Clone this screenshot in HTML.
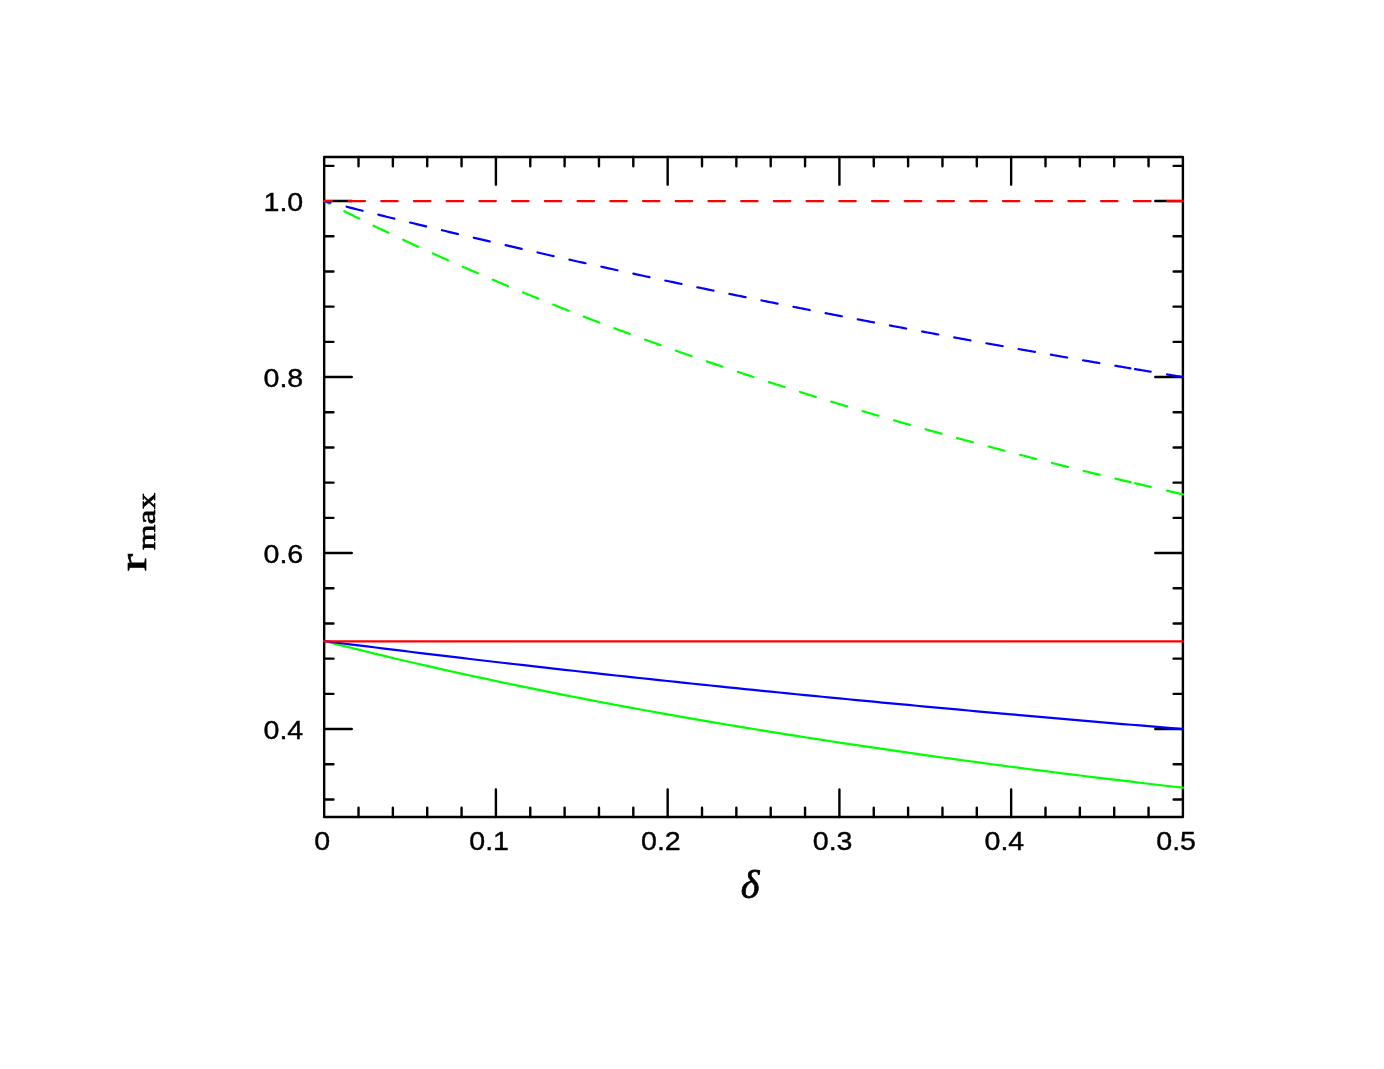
<!DOCTYPE html>
<html><head><meta charset="utf-8"><title>r_max vs delta</title>
<style>html,body{margin:0;padding:0;background:#fff;}svg{display:block;}text{font-family:"Liberation Sans",sans-serif;fill:#000;}.tl{font-size:26.6px;stroke:#000;stroke-width:0.4px;stroke-linejoin:round;}.ser{font-family:"Liberation Serif",serif;}</style></head><body>
<svg width="1384" height="1069" viewBox="0 0 1384 1069" style="will-change:transform">
<rect x="0" y="0" width="1384" height="1069" fill="#fff"/>
<rect x="324.17" y="157.03" width="858.73" height="660.00" fill="none" stroke="#000" stroke-width="2.4" stroke-linejoin="round"/>
<path d="M358.52 817.03v-9.3M358.52 157.03v9.3M392.87 817.03v-9.3M392.87 157.03v9.3M427.22 817.03v-9.3M427.22 157.03v9.3M461.57 817.03v-9.3M461.57 157.03v9.3M495.92 817.03v-27.6M495.92 157.03v27.6M530.27 817.03v-9.3M530.27 157.03v9.3M564.61 817.03v-9.3M564.61 157.03v9.3M598.96 817.03v-9.3M598.96 157.03v9.3M633.31 817.03v-9.3M633.31 157.03v9.3M667.66 817.03v-27.6M667.66 157.03v27.6M702.01 817.03v-9.3M702.01 157.03v9.3M736.36 817.03v-9.3M736.36 157.03v9.3M770.71 817.03v-9.3M770.71 157.03v9.3M805.06 817.03v-9.3M805.06 157.03v9.3M839.41 817.03v-27.6M839.41 157.03v27.6M873.76 817.03v-9.3M873.76 157.03v9.3M908.11 817.03v-9.3M908.11 157.03v9.3M942.46 817.03v-9.3M942.46 157.03v9.3M976.80 817.03v-9.3M976.80 157.03v9.3M1011.15 817.03v-27.6M1011.15 157.03v27.6M1045.50 817.03v-9.3M1045.50 157.03v9.3M1079.85 817.03v-9.3M1079.85 157.03v9.3M1114.20 817.03v-9.3M1114.20 157.03v9.3M1148.55 817.03v-9.3M1148.55 157.03v9.3M324.17 799.43h9.3M1182.9 799.43h-9.3M324.17 764.23h9.3M1182.9 764.23h-9.3M324.17 729.03h27.6M1182.9 729.03h-27.6M324.17 693.83h9.3M1182.9 693.83h-9.3M324.17 658.63h9.3M1182.9 658.63h-9.3M324.17 623.43h9.3M1182.9 623.43h-9.3M324.17 588.23h9.3M1182.9 588.23h-9.3M324.17 553.03h27.6M1182.9 553.03h-27.6M324.17 517.83h9.3M1182.9 517.83h-9.3M324.17 482.63h9.3M1182.9 482.63h-9.3M324.17 447.43h9.3M1182.9 447.43h-9.3M324.17 412.23h9.3M1182.9 412.23h-9.3M324.17 377.03h27.6M1182.9 377.03h-27.6M324.17 341.83h9.3M1182.9 341.83h-9.3M324.17 306.63h9.3M1182.9 306.63h-9.3M324.17 271.43h9.3M1182.9 271.43h-9.3M324.17 236.23h9.3M1182.9 236.23h-9.3M324.17 201.03h27.6M1182.9 201.03h-27.6M324.17 165.83h9.3M1182.9 165.83h-9.3" fill="none" stroke="#000" stroke-width="2.4" stroke-linecap="round"/>
<path d="M324.17 201.03L326.32 202.13L328.46 203.22L329.42 203.71M344.28 211.22L345.64 211.89L347.79 212.97L349.93 214.03L352.08 215.10L354.23 216.17L356.37 217.23L358.52 218.28L359.06 218.55M373.64 225.67L375.69 226.66L377.84 227.70L379.99 228.73L382.13 229.76L384.28 230.79L386.43 231.81L388.51 232.81M403.18 239.73L403.60 239.93L405.75 240.93L407.90 241.94L410.04 242.93L412.19 243.93L414.34 244.93L416.48 245.92L418.15 246.68M432.90 253.42L433.66 253.77L435.80 254.74L437.95 255.71L440.10 256.67L442.25 257.64L444.39 258.60L446.54 259.56L447.95 260.19M462.78 266.75L463.71 267.16L465.86 268.10L468.01 269.03L470.15 269.97L472.30 270.90L474.45 271.83L476.59 272.76L477.91 273.33M492.82 279.72L493.77 280.12L495.92 281.03L498.06 281.94L500.21 282.84L502.36 283.75L504.50 284.65L506.65 285.55L508.03 286.13M523.01 292.34L523.82 292.68L525.97 293.56L528.12 294.44L530.27 295.32L532.41 296.19L534.56 297.07L536.71 297.94L538.29 298.58M553.33 304.63L553.88 304.84L556.03 305.70L558.17 306.55L560.32 307.40L562.47 308.25L564.61 309.10L566.76 309.95L568.68 310.70M583.79 316.59L583.94 316.64L586.08 317.47L588.23 318.30L590.38 319.13L592.52 319.95L594.67 320.77L596.82 321.59L598.96 322.41L599.20 322.50M614.37 328.23L616.14 328.89L618.29 329.70L620.43 330.50L622.58 331.30L624.73 332.09L626.87 332.89L629.02 333.68L629.83 333.98M645.06 339.57L646.19 339.98L648.34 340.76L650.49 341.53L652.63 342.31L654.78 343.08L656.93 343.86L659.07 344.63L660.58 345.17M675.86 350.60L676.25 350.74L678.40 351.50L680.54 352.25L682.69 353.01L684.84 353.76L686.98 354.51L689.13 355.26L691.28 356.00L691.44 356.06M706.77 361.35L708.45 361.93L710.60 362.66L712.75 363.39L714.89 364.13L717.04 364.86L719.19 365.58L721.33 366.31L722.39 366.67M737.77 371.82L738.51 372.07L740.65 372.78L742.80 373.49L744.95 374.20L747.09 374.91L749.24 375.62L751.39 376.33L753.44 377.00M768.86 382.02L770.71 382.62L772.86 383.31L775.00 384.00L777.15 384.69L779.30 385.38L781.44 386.06L783.59 386.75L784.57 387.06M800.03 391.95L800.77 392.18L802.91 392.86L805.06 393.53L807.21 394.20L809.35 394.87L811.50 395.54L813.65 396.21L815.78 396.87M831.29 401.64L832.97 402.15L835.11 402.80L837.26 403.46L839.41 404.11L841.55 404.76L843.70 405.41L845.85 406.05L847.08 406.42M862.62 411.07L863.02 411.19L865.17 411.83L867.32 412.46L869.46 413.10L871.61 413.73L873.76 414.36L875.90 414.99L878.05 415.62L878.44 415.74M894.02 420.27L895.23 420.62L897.37 421.24L899.52 421.85L901.67 422.47L903.81 423.09L905.96 423.70L908.11 424.31L909.88 424.82M925.49 429.24L927.43 429.78L929.57 430.38L931.72 430.98L933.87 431.58L936.02 432.18L938.16 432.78L940.31 433.38L941.38 433.67M957.02 437.98L957.48 438.11L959.63 438.69L961.78 439.28L963.92 439.86L966.07 440.45L968.22 441.03L970.36 441.61L972.51 442.19L972.94 442.31M988.60 446.51L989.69 446.80L991.83 447.37L993.98 447.94L996.13 448.51L998.27 449.07L1000.42 449.64L1002.57 450.21L1004.56 450.73M1020.25 454.83L1021.89 455.25L1024.03 455.81L1026.18 456.36L1028.33 456.92L1030.48 457.47L1032.62 458.02L1034.77 458.57L1036.23 458.95M1051.95 462.94L1054.09 463.49L1056.24 464.03L1058.38 464.57L1060.53 465.11L1062.68 465.65L1064.82 466.18L1066.97 466.72L1067.95 466.96M1083.69 470.87L1084.15 470.98L1086.29 471.51L1088.44 472.03L1090.59 472.56L1092.73 473.09L1094.88 473.61L1097.03 474.13L1099.17 474.66L1099.72 474.79M1115.49 478.60L1116.35 478.81L1118.50 479.32L1120.64 479.83L1122.79 480.35L1124.94 480.86L1127.08 481.37L1129.23 481.88L1130.49 482.18M1134.97 483.24L1135.67 483.41L1137.82 483.91L1139.96 484.42L1142.11 484.93L1144.26 485.43L1146.40 485.93L1148.55 486.44L1150.70 486.94L1150.73 486.94M1167.07 490.74L1167.87 490.92L1170.02 491.42L1172.17 491.91L1174.31 492.40L1176.46 492.89L1178.61 493.38L1180.75 493.87L1182.90 494.36" fill="none" stroke="#00ff00" stroke-width="2.2" stroke-linecap="round" stroke-linejoin="round"/>
<path d="M324.17 201.03L326.32 201.58L328.46 202.13L330.37 202.62M346.57 206.73L347.79 207.04L349.93 207.58L352.08 208.12L354.23 208.66L356.37 209.20L358.52 209.74L360.67 210.28L362.57 210.76M378.31 214.68L379.99 215.10L382.13 215.63L384.28 216.17L386.43 216.70L388.57 217.23L390.72 217.76L392.87 218.28L394.32 218.64M410.08 222.50L412.19 223.02L414.34 223.54L416.48 224.06L418.63 224.58L420.78 225.10L422.92 225.62L425.07 226.14L426.11 226.39M441.88 230.19L442.25 230.27L444.39 230.79L446.54 231.30L448.69 231.81L450.83 232.33L452.98 232.84L455.13 233.35L457.27 233.86L457.93 234.01M473.72 237.74L474.45 237.92L476.59 238.42L478.74 238.92L480.89 239.43L483.04 239.93L485.18 240.43L487.33 240.93L489.48 241.44L489.78 241.51M505.58 245.17L506.65 245.42L508.80 245.92L510.94 246.41L513.09 246.91L515.24 247.40L517.38 247.89L519.53 248.39L521.66 248.88M537.48 252.48L538.85 252.79L541.00 253.28L543.15 253.77L545.29 254.25L547.44 254.74L549.59 255.22L551.73 255.71L553.57 256.12M569.40 259.67L571.05 260.04L573.20 260.52L575.35 261.00L577.50 261.47L579.64 261.95L581.79 262.43L583.94 262.90L585.50 263.25M601.34 266.74L603.26 267.16L605.40 267.63L607.55 268.10L609.70 268.57L611.84 269.03L613.99 269.50L616.14 269.97L617.46 270.26M633.32 273.69L635.46 274.15L637.61 274.62L639.75 275.08L641.90 275.54L644.05 276.00L646.19 276.46L648.34 276.92L649.45 277.16M665.31 280.53L665.52 280.58L667.66 281.03L669.81 281.48L671.96 281.94L674.10 282.39L676.25 282.84L678.40 283.30L680.54 283.75L681.46 283.94M697.33 287.26L697.72 287.34L699.86 287.79L702.01 288.24L704.16 288.68L706.30 289.13L708.45 289.57L710.60 290.02L712.75 290.46L713.49 290.62M729.38 293.89L729.92 294.00L732.07 294.44L734.21 294.88L736.36 295.32L738.51 295.75L740.65 296.19L742.80 296.63L744.95 297.07L745.54 297.19M761.44 300.40L762.12 300.54L764.27 300.97L766.42 301.41L768.56 301.84L770.71 302.27L772.86 302.70L775.00 303.13L777.15 303.56L777.62 303.65M793.53 306.82L794.32 306.98L796.47 307.40L798.62 307.83L800.77 308.25L802.91 308.68L805.06 309.10L807.21 309.52L809.35 309.95L809.71 310.02M825.63 313.13L826.53 313.31L828.67 313.73L830.82 314.15L832.97 314.56L835.11 314.98L837.26 315.40L839.41 315.81L841.55 316.23L841.83 316.28M857.75 319.35L858.73 319.54L860.88 319.95L863.02 320.36L865.17 320.77L867.32 321.18L869.46 321.59L871.61 322.00L873.76 322.41L873.96 322.45M889.90 325.47L890.93 325.67L893.08 326.07L895.23 326.47L897.37 326.88L899.52 327.28L901.67 327.69L903.81 328.09L905.96 328.49L906.11 328.52M922.06 331.50L923.13 331.70L925.28 332.09L927.43 332.49L929.57 332.89L931.72 333.29L933.87 333.68L936.02 334.08L938.16 334.48L938.28 334.50M954.24 337.43L955.34 337.63L957.48 338.02L959.63 338.41L961.78 338.81L963.92 339.20L966.07 339.59L968.22 339.98L970.36 340.37L970.47 340.39M986.43 343.27L987.54 343.47L989.69 343.86L991.83 344.24L993.98 344.63L996.13 345.01L998.27 345.40L1000.42 345.78L1002.57 346.17L1002.67 346.18M1018.64 349.03L1019.74 349.22L1021.89 349.60L1024.03 349.98L1026.18 350.36L1028.33 350.74L1030.48 351.12L1032.62 351.50L1034.77 351.87L1034.89 351.89M1050.86 354.69L1051.94 354.88L1054.09 355.26L1056.24 355.63L1058.38 356.00L1060.53 356.38L1062.68 356.75L1064.82 357.12L1066.97 357.49L1067.12 357.52M1083.10 360.28L1084.15 360.46L1086.29 360.83L1088.44 361.19L1090.59 361.56L1092.73 361.93L1094.88 362.30L1097.03 362.66L1099.17 363.03L1099.37 363.06M1115.36 365.78L1116.35 365.95L1118.50 366.31L1120.64 366.67L1122.79 367.03L1124.94 367.40L1127.08 367.76L1129.23 368.12L1130.45 368.32M1134.98 369.08L1135.67 369.20L1137.82 369.56L1139.96 369.92L1142.11 370.28L1144.26 370.64L1146.40 370.99L1148.55 371.35L1150.70 371.71L1150.71 371.71M1167.09 374.43L1167.87 374.56L1170.02 374.91L1172.17 375.27L1174.31 375.62L1176.46 375.97L1178.61 376.33L1180.75 376.68L1182.90 377.03" fill="none" stroke="#0000ff" stroke-width="2.2" stroke-linecap="round" stroke-linejoin="round"/>
<path d="M324.17 201.03L326.32 201.03L328.46 201.03L330.61 201.03L331.87 201.03M348.50 201.03L349.93 201.03L352.08 201.03L354.23 201.03L356.37 201.03L358.52 201.03L360.67 201.03L362.81 201.03L364.96 201.03L365.00 201.03M381.22 201.03L382.13 201.03L384.28 201.03L386.43 201.03L388.57 201.03L390.72 201.03L392.87 201.03L395.02 201.03L397.16 201.03L397.72 201.03M413.94 201.03L414.34 201.03L416.48 201.03L418.63 201.03L420.78 201.03L422.92 201.03L425.07 201.03L427.22 201.03L429.36 201.03L430.44 201.03M446.66 201.03L448.69 201.03L450.83 201.03L452.98 201.03L455.13 201.03L457.27 201.03L459.42 201.03L461.57 201.03L463.16 201.03M479.38 201.03L480.89 201.03L483.04 201.03L485.18 201.03L487.33 201.03L489.48 201.03L491.62 201.03L493.77 201.03L495.88 201.03M512.10 201.03L513.09 201.03L515.24 201.03L517.38 201.03L519.53 201.03L521.68 201.03L523.82 201.03L525.97 201.03L528.12 201.03L528.60 201.03M544.82 201.03L545.29 201.03L547.44 201.03L549.59 201.03L551.73 201.03L553.88 201.03L556.03 201.03L558.17 201.03L560.32 201.03L561.32 201.03M577.54 201.03L579.64 201.03L581.79 201.03L583.94 201.03L586.08 201.03L588.23 201.03L590.38 201.03L592.52 201.03L594.04 201.03M610.26 201.03L611.84 201.03L613.99 201.03L616.14 201.03L618.29 201.03L620.43 201.03L622.58 201.03L624.73 201.03L626.76 201.03M642.98 201.03L644.05 201.03L646.19 201.03L648.34 201.03L650.49 201.03L652.63 201.03L654.78 201.03L656.93 201.03L659.07 201.03L659.48 201.03M675.70 201.03L676.25 201.03L678.40 201.03L680.54 201.03L682.69 201.03L684.84 201.03L686.98 201.03L689.13 201.03L691.28 201.03L692.20 201.03M708.42 201.03L708.45 201.03L710.60 201.03L712.75 201.03L714.89 201.03L717.04 201.03L719.19 201.03L721.33 201.03L723.48 201.03L724.92 201.03M741.14 201.03L742.80 201.03L744.95 201.03L747.09 201.03L749.24 201.03L751.39 201.03L753.54 201.03L755.68 201.03L757.64 201.03M773.86 201.03L775.00 201.03L777.15 201.03L779.30 201.03L781.44 201.03L783.59 201.03L785.74 201.03L787.88 201.03L790.03 201.03L790.36 201.03M806.58 201.03L807.21 201.03L809.35 201.03L811.50 201.03L813.65 201.03L815.79 201.03L817.94 201.03L820.09 201.03L822.23 201.03L823.08 201.03M839.30 201.03L839.41 201.03L841.55 201.03L843.70 201.03L845.85 201.03L848.00 201.03L850.14 201.03L852.29 201.03L854.44 201.03L855.80 201.03M872.02 201.03L873.76 201.03L875.90 201.03L878.05 201.03L880.20 201.03L882.34 201.03L884.49 201.03L886.64 201.03L888.52 201.03M904.74 201.03L905.96 201.03L908.11 201.03L910.25 201.03L912.40 201.03L914.55 201.03L916.69 201.03L918.84 201.03L920.99 201.03L921.24 201.03M937.46 201.03L938.16 201.03L940.31 201.03L942.46 201.03L944.60 201.03L946.75 201.03L948.90 201.03L951.04 201.03L953.19 201.03L953.96 201.03M970.18 201.03L970.36 201.03L972.51 201.03L974.66 201.03L976.80 201.03L978.95 201.03L981.10 201.03L983.25 201.03L985.39 201.03L986.68 201.03M1002.90 201.03L1004.71 201.03L1006.86 201.03L1009.01 201.03L1011.15 201.03L1013.30 201.03L1015.45 201.03L1017.59 201.03L1019.40 201.03M1035.62 201.03L1036.92 201.03L1039.06 201.03L1041.21 201.03L1043.36 201.03L1045.50 201.03L1047.65 201.03L1049.80 201.03L1051.94 201.03L1052.12 201.03M1068.34 201.03L1069.12 201.03L1071.27 201.03L1073.41 201.03L1075.56 201.03L1077.71 201.03L1079.85 201.03L1082.00 201.03L1084.15 201.03L1084.84 201.03M1101.06 201.03L1101.32 201.03L1103.47 201.03L1105.61 201.03L1107.76 201.03L1109.91 201.03L1112.05 201.03L1114.20 201.03L1116.35 201.03L1117.56 201.03M1133.80 201.03L1135.67 201.03L1137.82 201.03L1139.96 201.03L1142.11 201.03L1144.26 201.03L1146.40 201.03L1148.55 201.03L1150.70 201.03L1150.70 201.03M1167.10 201.03L1167.87 201.03L1170.02 201.03L1172.17 201.03L1174.31 201.03L1176.46 201.03L1178.61 201.03L1180.75 201.03L1182.90 201.03" fill="none" stroke="#ff0000" stroke-width="2.2" stroke-linecap="round" stroke-linejoin="round"/>
<path d="M324.17 641.03L332.76 643.22L341.34 645.39L349.93 647.53L358.52 649.66L367.11 651.76L375.69 653.85L384.28 655.91L392.87 657.95L401.46 659.98L410.04 661.98L418.63 663.97L427.22 665.94L435.80 667.88L444.39 669.82L452.98 671.73L461.57 673.62L470.15 675.50L478.74 677.36L487.33 679.20L495.92 681.03L504.50 682.84L513.09 684.63L521.68 686.41L530.27 688.17L538.85 689.92L547.44 691.65L556.03 693.36L564.61 695.07L573.20 696.75L581.79 698.42L590.38 700.08L598.96 701.72L607.55 703.35L616.14 704.96L624.73 706.56L633.31 708.15L641.90 709.72L650.49 711.28L659.07 712.83L667.66 714.36L676.25 715.88L684.84 717.39L693.42 718.89L702.01 720.37L710.60 721.85L719.19 723.31L727.77 724.75L736.36 726.19L744.95 727.62L753.54 729.03L762.12 730.43L770.71 731.82L779.30 733.20L787.88 734.57L796.47 735.93L805.06 737.28L813.65 738.62L822.23 739.94L830.82 741.26L839.41 742.57L848.00 743.87L856.58 745.15L865.17 746.43L873.76 747.70L882.34 748.95L890.93 750.20L899.52 751.44L908.11 752.67L916.69 753.89L925.28 755.10L933.87 756.31L942.46 757.50L951.04 758.69L959.63 759.86L968.22 761.03L976.80 762.19L985.39 763.34L993.98 764.48L1002.57 765.62L1011.15 766.74L1019.74 767.86L1028.33 768.97L1036.92 770.08L1045.50 771.17L1054.09 772.26L1062.68 773.34L1071.27 774.41L1079.85 775.47L1088.44 776.53L1097.03 777.58L1105.61 778.62L1114.20 779.66L1122.79 780.69L1131.38 781.71L1139.96 782.72L1148.55 783.73L1157.14 784.73L1165.73 785.73L1174.31 786.72L1182.90 787.70" fill="none" stroke="#00ff00" stroke-width="2.2" stroke-linecap="round" stroke-linejoin="round"/>
<path d="M324.17 641.03L332.76 642.13L341.34 643.22L349.93 644.31L358.52 645.39L367.11 646.46L375.69 647.53L384.28 648.60L392.87 649.66L401.46 650.71L410.04 651.76L418.63 652.81L427.22 653.85L435.80 654.88L444.39 655.91L452.98 656.93L461.57 657.95L470.15 658.97L478.74 659.98L487.33 660.98L495.92 661.98L504.50 662.98L513.09 663.97L521.68 664.95L530.27 665.94L538.85 666.91L547.44 667.88L556.03 668.85L564.61 669.82L573.20 670.77L581.79 671.73L590.38 672.68L598.96 673.62L607.55 674.56L616.14 675.50L624.73 676.43L633.31 677.36L641.90 678.28L650.49 679.20L659.07 680.12L667.66 681.03L676.25 681.94L684.84 682.84L693.42 683.74L702.01 684.63L710.60 685.52L719.19 686.41L727.77 687.29L736.36 688.17L744.95 689.05L753.54 689.92L762.12 690.79L770.71 691.65L779.30 692.51L787.88 693.36L796.47 694.22L805.06 695.07L813.65 695.91L822.23 696.75L830.82 697.59L839.41 698.42L848.00 699.25L856.58 700.08L865.17 700.90L873.76 701.72L882.34 702.54L890.93 703.35L899.52 704.16L908.11 704.96L916.69 705.76L925.28 706.56L933.87 707.36L942.46 708.15L951.04 708.94L959.63 709.72L968.22 710.50L976.80 711.28L985.39 712.06L993.98 712.83L1002.57 713.60L1011.15 714.36L1019.74 715.13L1028.33 715.88L1036.92 716.64L1045.50 717.39L1054.09 718.14L1062.68 718.89L1071.27 719.63L1079.85 720.37L1088.44 721.11L1097.03 721.85L1105.61 722.58L1114.20 723.31L1122.79 724.03L1131.38 724.75L1139.96 725.47L1148.55 726.19L1157.14 726.91L1165.73 727.62L1174.31 728.32L1182.90 729.03" fill="none" stroke="#0000ff" stroke-width="2.2" stroke-linecap="round" stroke-linejoin="round"/>
<path d="M324.17 641.28L332.76 641.28L341.34 641.28L349.93 641.28L358.52 641.28L367.11 641.28L375.69 641.28L384.28 641.28L392.87 641.28L401.46 641.28L410.04 641.28L418.63 641.28L427.22 641.28L435.80 641.28L444.39 641.28L452.98 641.28L461.57 641.28L470.15 641.28L478.74 641.28L487.33 641.28L495.92 641.28L504.50 641.28L513.09 641.28L521.68 641.28L530.27 641.28L538.85 641.28L547.44 641.28L556.03 641.28L564.61 641.28L573.20 641.28L581.79 641.28L590.38 641.28L598.96 641.28L607.55 641.28L616.14 641.28L624.73 641.28L633.31 641.28L641.90 641.28L650.49 641.28L659.07 641.28L667.66 641.28L676.25 641.28L684.84 641.28L693.42 641.28L702.01 641.28L710.60 641.28L719.19 641.28L727.77 641.28L736.36 641.28L744.95 641.28L753.54 641.28L762.12 641.28L770.71 641.28L779.30 641.28L787.88 641.28L796.47 641.28L805.06 641.28L813.65 641.28L822.23 641.28L830.82 641.28L839.41 641.28L848.00 641.28L856.58 641.28L865.17 641.28L873.76 641.28L882.34 641.28L890.93 641.28L899.52 641.28L908.11 641.28L916.69 641.28L925.28 641.28L933.87 641.28L942.46 641.28L951.04 641.28L959.63 641.28L968.22 641.28L976.80 641.28L985.39 641.28L993.98 641.28L1002.57 641.28L1011.15 641.28L1019.74 641.28L1028.33 641.28L1036.92 641.28L1045.50 641.28L1054.09 641.28L1062.68 641.28L1071.27 641.28L1079.85 641.28L1088.44 641.28L1097.03 641.28L1105.61 641.28L1114.20 641.28L1122.79 641.28L1131.38 641.28L1139.96 641.28L1148.55 641.28L1157.14 641.28L1165.73 641.28L1174.31 641.28L1182.90 641.28" fill="none" stroke="#ff0000" stroke-width="2.2" stroke-linecap="round" stroke-linejoin="round"/>
<text class="tl" transform="translate(322.27 850.20) scale(1.075 1)" text-anchor="middle">0</text>
<text class="tl" transform="translate(489.12 850.20) scale(1.075 1)" text-anchor="middle">0.1</text>
<text class="tl" transform="translate(660.86 850.20) scale(1.075 1)" text-anchor="middle">0.2</text>
<text class="tl" transform="translate(832.61 850.20) scale(1.075 1)" text-anchor="middle">0.3</text>
<text class="tl" transform="translate(1004.35 850.20) scale(1.075 1)" text-anchor="middle">0.4</text>
<text class="tl" transform="translate(1176.10 850.20) scale(1.075 1)" text-anchor="middle">0.5</text>
<text class="tl" transform="translate(283.40 211.33) scale(1.075 1)" text-anchor="middle">1.0</text>
<text class="tl" transform="translate(283.40 387.33) scale(1.075 1)" text-anchor="middle">0.8</text>
<text class="tl" transform="translate(283.40 563.33) scale(1.075 1)" text-anchor="middle">0.6</text>
<text class="tl" transform="translate(283.40 739.33) scale(1.075 1)" text-anchor="middle">0.4</text>
<text class="ser" x="750" y="897.5" text-anchor="middle" font-size="40" font-style="italic" stroke="#000" stroke-width="0.8">δ</text>
<g stroke="#000" stroke-linejoin="round"><text class="ser" transform="translate(146.0 571.3) rotate(-90) scale(1.38 1)" font-size="38.0" stroke-width="0.7">r</text><text class="ser" transform="translate(155.0 550.0) rotate(-90) scale(1.27 1)" font-size="25.8" stroke-width="0.7" letter-spacing="0.3">max</text></g>
</svg></body></html>
